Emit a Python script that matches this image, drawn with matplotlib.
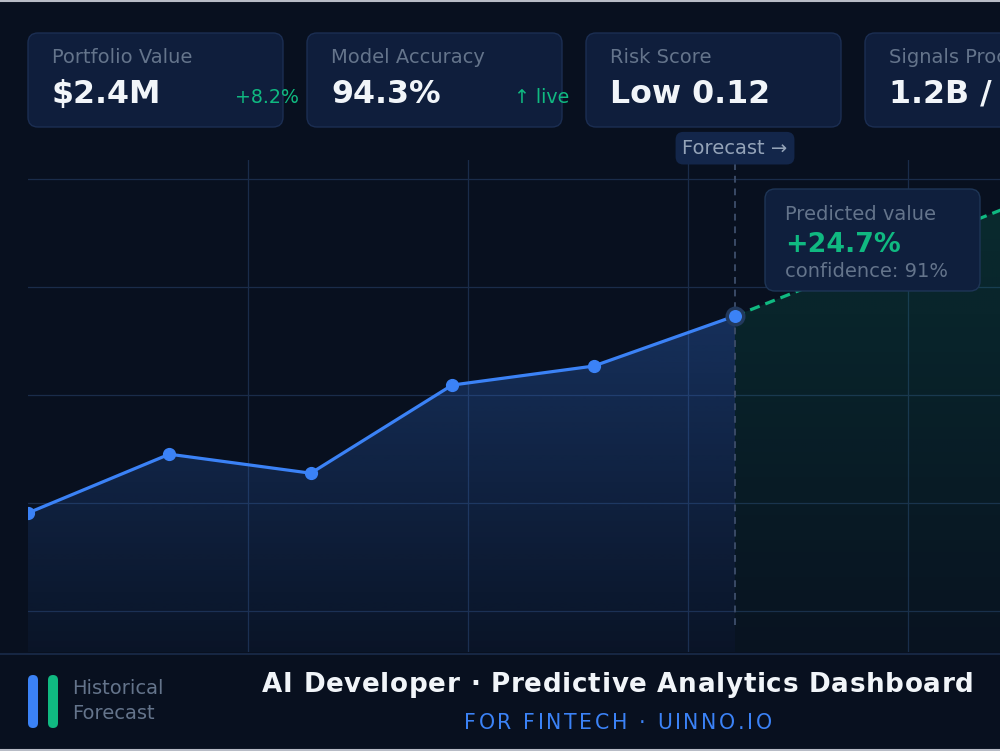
import numpy as np
import matplotlib
matplotlib.use('Agg')
import matplotlib.pyplot as plt
from matplotlib.patches import FancyBboxPatch, PathPatch
from matplotlib.colors import to_rgb

# data
hist_x = [0, 1, 2, 3, 4, 5]
hist_y = [22.7, 36.3, 31.9, 52.3, 56.7, 68.3]
fc_x = [5, 6, 7]
fc_y = [68.3, 81.3, 94.4]
hgrid = [0, 25, 50, 75, 100]
vgrid_step = 1.556

kpi_labels = ['Portfolio Value', 'Model Accuracy', 'Risk Score', 'Signals Processed']
kpi_values = ['$2.4M', '94.3%', 'Low 0.12', '1.2B / day']
kpi_deltas = ['+8.2%', '\u2191 live', '', '']

tip_label = 'Predicted value'
tip_value = '+24.7%'
tip_conf = 'confidence: 91%'
legend_items = ['Historical', 'Forecast']
title = 'AI Developer \u00b7 Predictive Analytics Dashboard'
subtitle = 'FOR FINTECH \u00b7 UINNO.IO'

# colours
BG = '#08101f'
CARD = '#0f1e3c'
CARD_EDGE = '#1b2e52'
GRID = '#1a2c4a'
BLUE = '#3b82f6'
GREEN = '#10b981'
MUTED = '#64748b'
LIGHT = '#94a3b8'
WHITE = '#f1f5f9'

fig = plt.figure(figsize=(10, 7.51), dpi=100, facecolor=BG)

# chart axes (pixel box: x 28..1000, y 160..652)
ax = fig.add_axes([28 / 1000, (751 - 652) / 751, 972 / 1000, 492 / 751])
ax.set_facecolor('none')
for s in ax.spines.values():
    s.set_visible(False)
ax.set_xticks([])
ax.set_yticks([])
ylo, yhi = -9.49, 104.4
xhi = 6.874

for g in hgrid:
    ax.axhline(g, color=GRID, lw=0.9, zorder=0)
k = 1
while k * vgrid_step < xhi:
    ax.axvline(k * vgrid_step, color=GRID, lw=0.9, zorder=0)
    k += 1


def grad_fill(xs, ys, color, a_top, a_bot, top):
    rgba = np.zeros((256, 1, 4))
    rgba[..., :3] = to_rgb(color)
    rgba[..., 3] = np.linspace(a_bot, a_top, 256)[:, None]
    im = ax.imshow(rgba, extent=[xs[0], xs[-1], ylo, top], origin='lower',
                   aspect='auto', zorder=1, interpolation='bilinear')
    poly = ax.fill_between(xs, ys, ylo, color='none', lw=0)
    clip = PathPatch(poly.get_paths()[0], transform=ax.transData)
    im.set_clip_path(clip)


grad_fill(hist_x, hist_y, BLUE, 0.28, 0.04, max(hist_y))
grad_fill(fc_x, fc_y, GREEN, 0.16, 0.02, max(fc_y))

# forecast divider
ax.plot([fc_x[0], fc_x[0]], [-3.2, yhi], color='#3a4a66', lw=1.4,
        ls=(0, (3.5, 3.0)), zorder=2)

ax.plot(fc_x, fc_y, color=GREEN, lw=2.3, ls=(0, (3.2, 1.9)), zorder=3)
ax.plot(hist_x[:-1], hist_y[:-1], color=BLUE, lw=2.3, marker='o', ms=8.5, zorder=4)
ax.plot(hist_x[-2:], hist_y[-2:], color=BLUE, lw=2.3, zorder=4)
ax.plot(hist_x[-1], hist_y[-1], marker='o', ms=11.9, color=BLUE,
        mec='#22395c', mew=2.5, zorder=5)

ax.set_xlim(0, xhi)
ax.set_ylim(ylo, yhi)

ax.text(fc_x[0], 1.024, 'Forecast \u2192', transform=ax.get_xaxis_transform(),
        ha='center', va='center', fontsize=14, color=LIGHT, zorder=6, clip_on=False,
        bbox=dict(boxstyle='round,pad=0.35,rounding_size=0.4', fc='#13264a', ec='none'))

# overlay in pixel coords
ov = fig.add_axes([0, 0, 1, 1], zorder=5)
ov.set_xlim(0, 1000)
ov.set_ylim(751, 0)
ov.axis('off')
ov.patch.set_alpha(0)

# KPI cards
for i, (lab, val, d) in enumerate(zip(kpi_labels, kpi_values, kpi_deltas)):
    x0 = 28 + i * 279
    ov.add_patch(FancyBboxPatch((x0, 33), 255, 94, boxstyle='round,pad=0,rounding_size=10',
                                fc=CARD, ec=CARD_EDGE, lw=1))
    ov.text(x0 + 24, 63, lab, fontsize=14, color=MUTED, va='baseline')
    ov.text(x0 + 24, 103, val, fontsize=22.8, color=WHITE, fontweight='bold', va='baseline')
    if d:
        ov.text(x0 + 207, 103, d, fontsize=13.7, color=GREEN, va='baseline')

# tooltip
ov.add_patch(FancyBboxPatch((765, 189), 215, 102, boxstyle='round,pad=0,rounding_size=10',
                            fc='#0f1f3d', ec='#1e3556', lw=1))
ov.text(785, 220, tip_label, fontsize=14, color=MUTED, va='baseline')
ov.text(785, 252, tip_value, fontsize=19.4, color=GREEN, fontweight='bold', va='baseline')
ov.text(785, 277, tip_conf, fontsize=14, color=MUTED, va='baseline')

# footer
ov.plot([0, 1000], [653.5, 653.5], color='#1a2b4a', lw=1.2)
ov.add_patch(FancyBboxPatch((28, 675), 10, 53, boxstyle='round,pad=0,rounding_size=5',
                            fc=BLUE, ec='none'))
ov.add_patch(FancyBboxPatch((48, 675), 10, 53, boxstyle='round,pad=0,rounding_size=5',
                            fc=GREEN, ec='none'))
ov.text(72, 694, legend_items[0], fontsize=14, color=MUTED, va='baseline')
ov.text(72, 719, legend_items[1], fontsize=14, color=MUTED, va='baseline')

renderer = fig.canvas.get_renderer()


def spaced(xc, y, s, gap, **kw):
    ref = ov.text(0, y, 'xx', **kw)
    wref = ref.get_window_extent(renderer).width
    ref.remove()
    items = []
    for ch in s:
        t = ov.text(0, y, 'x' + ch + 'x', **kw)
        w = t.get_window_extent(renderer).width - wref
        t.set_text(ch)
        items.append((t, w))
    total = sum(w for _, w in items) + gap * (len(items) - 1)
    x = xc - total / 2
    for t, w in items:
        t.set_x(x)
        x += w + gap


spaced(618, 692, title, 0.7, fontsize=18.8, color=WHITE, fontweight='bold',
       va='baseline', ha='left')
spaced(618, 729, subtitle, 2.6, fontsize=14.8, color=BLUE, va='baseline', ha='left')

# screenshot frame lines
ov.plot([0, 1000], [1, 1], color='#b8bcc6', lw=1.5)
ov.plot([0, 1000], [750, 750], color='#b8bcc6', lw=1.5)

fig.savefig('out.png', dpi=100, facecolor=BG)
